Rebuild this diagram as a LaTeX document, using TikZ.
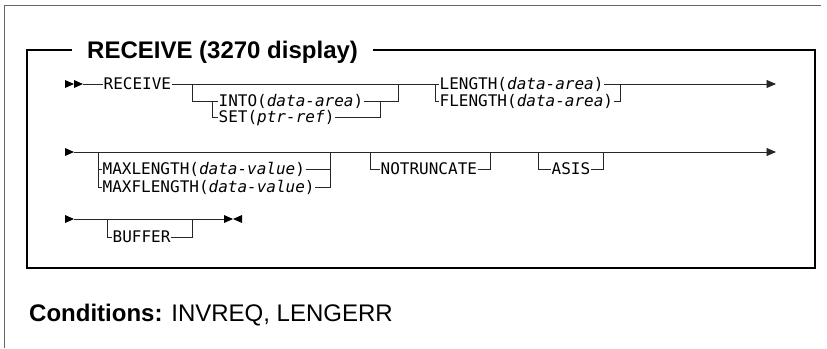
\documentclass[tikz,border=0pt]{standalone}
\usepackage{fontspec}
\setmainfont{Liberation Sans}
\newfontfamily\synfont{DejaVu Sans Mono}
\usetikzlibrary{arrows.meta}
\begin{document}
\begin{tikzpicture}[x=1pt,y=-1pt,
  syn/.style={font=\synfont\fontsize{16}{18}\selectfont, inner sep=0pt, inner xsep=0.5pt,
              text height=11.7pt, text depth=0pt, anchor=west},
  big/.style={font=\fontsize{24}{28}\selectfont, inner sep=0pt, text height=17.2pt,
              text depth=0pt, anchor=west},
  rail/.style={line width=0.9pt, draw=black!85},
  endarrow/.style={rail, -{Triangle[length=9.5pt,width=8pt]}},
  tipfill/.style={fill=black},
  frame/.style={line width=1.3pt, draw=black},
  outer/.style={line width=1pt, draw=black!60},
]
\useasboundingbox (0,0) rectangle (827,348);

% outer page edge
\draw[outer] (4.5,348) -- (4.5,5.5) -- (821,5.5);

% title and inner frame
\node[big] (title) at (87,50) {\bfseries RECEIVE (3270 display)};
\draw[frame] ([xshift=-15pt]title.west) -- (27,50) -- (27,268) -- (815,268) -- (815,50) -- ([xshift=15pt]title.east);

% ---------- row 1 ----------
\fill[tipfill] (65,80) -- (74,84) -- (65,88) -- cycle;
\fill[tipfill] (74,80) -- (83,84) -- (74,88) -- cycle;
\coordinate (a1) at (83,84);
\node[syn] (recv) at (103,84) {RECEIVE};
\coordinate (o1) at (192,84);  \coordinate (o1d) at (192,101);
\coordinate (c1) at (212,101); \coordinate (c1d) at (212,117);
\node[syn] (into) at (218,101) {INTO(\textit{data-area})};
\node[syn] (set) at (218,117) {SET(\textit{ptr-ref})};
\coordinate (c2) at (380,101); \coordinate (c2d) at (380,117);
\coordinate (o2) at (398,84);  \coordinate (o2d) at (398,101);
\coordinate (l1) at (435,84);  \coordinate (l1d) at (435,101);
\node[syn] (len) at (439,84) {LENGTH(\textit{data-area})};
\node[syn] (flen) at (439,101) {FLENGTH(\textit{data-area})};
\coordinate (l2) at (620,84);  \coordinate (l2d) at (620,101);
\coordinate (e1) at (776,84);

\draw[rail] (a1) -- (recv.west);
\draw[rail] (recv.east) -- (len.west);
\draw[rail] (o1) -- (o1d) -- (into.west);
\draw[rail] (c1) -- (c1d) -- (set.west);
\draw[rail] (into.east) -- (o2d) -- (o2);
\draw[rail] (set.east) -- (c2d) -- (c2);
\draw[rail] (l1) -- (l1d) -- (flen.west);
\draw[rail] (flen.east) -- (l2d) -- (l2);
\draw[endarrow] (len.east) -- (e1);

% ---------- row 2 ----------
\fill[tipfill] (65,148) -- (74,152) -- (65,156) -- cycle;
\coordinate (b2) at (74,152);
\coordinate (e2) at (776,152);
\coordinate (m1) at (98,152);  \coordinate (m1a) at (98,169);  \coordinate (m1b) at (98,187);
\node[syn] (maxl) at (102,169) {MAXLENGTH(\textit{data-value})};
\node[syn] (maxfl) at (102,187) {MAXFLENGTH(\textit{data-value})};
\coordinate (m2) at (330,152); \coordinate (m2a) at (330,169); \coordinate (m2b) at (330,187);
\coordinate (n1) at (370,152); \coordinate (n1d) at (370,169);
\node[syn] (notr) at (380,169) {NOTRUNCATE};
\coordinate (n2) at (490,152); \coordinate (n2d) at (490,169);
\coordinate (q1) at (538,152); \coordinate (q1d) at (538,169);
\node[syn] (asis) at (551,169) {ASIS};
\coordinate (q2) at (603,152); \coordinate (q2d) at (603,169);

\draw[endarrow] (b2) -- (e2);
\draw[rail] (m1) -- (m1b) -- (maxfl.west);
\draw[rail] (m1a) -- (maxl.west);
\draw[rail] (maxl.east) -- (m2a);
\draw[rail] (maxfl.east) -- (m2b) -- (m2);
\draw[rail] (n1) -- (n1d) -- (notr.west);
\draw[rail] (notr.east) -- (n2d) -- (n2);
\draw[rail] (q1) -- (q1d) -- (asis.west);
\draw[rail] (asis.east) -- (q2d) -- (q2);

% ---------- row 3 ----------
\fill[tipfill] (65,215) -- (74,219) -- (65,223) -- cycle;
\coordinate (b3) at (74,219);
\coordinate (t3) at (224,219);
\coordinate (bf1) at (107,219); \coordinate (bf1d) at (107,237);
\node[syn] (buf) at (112,237) {BUFFER};
\coordinate (bf2) at (192,219); \coordinate (bf2d) at (192,237);
\draw[rail] (b3) -- (t3);
\draw[rail] (bf1) -- (bf1d) -- (buf.west);
\draw[rail] (buf.east) -- (bf2d) -- (bf2);
\fill[tipfill] (t3) ++(0,-4) -- ++(9,4) -- ++(-9,4) -- cycle;
\fill[tipfill] (t3) ++(18,-4) -- ++(-9,4) -- ++(9,4) -- cycle;

% conditions
\node[big] (cond) at (29,313) {\textbf{Conditions:} INVREQ, LENGERR};
\end{tikzpicture}
\end{document}
